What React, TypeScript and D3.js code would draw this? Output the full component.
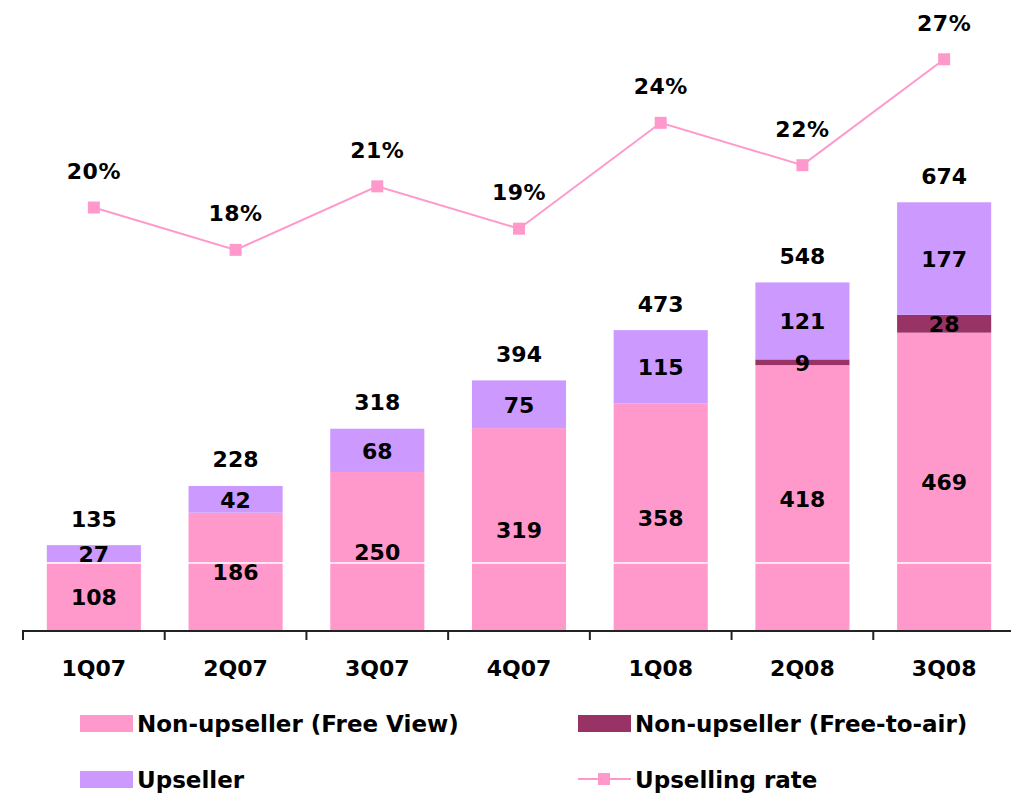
import React, { useEffect, useRef } from "react";
import * as d3 from "d3";

const quarters = ["1Q07", "2Q07", "3Q07", "4Q07", "1Q08", "2Q08", "3Q08"];
const freeView = [108, 186, 250, 319, 358, 418, 469];
const freeToAir = [0, 0, 0, 0, 0, 9, 28];
const upseller = [27, 42, 68, 75, 115, 121, 177];
const totals = [135, 228, 318, 394, 473, 548, 674];
const upsellRate = [20, 18, 21, 19, 24, 22, 27];
const gridValue = 107;

const seriesNames = [
  "Non-upseller (Free View)",
  "Non-upseller (Free-to-air)",
  "Upseller",
  "Upselling rate",
];

const colors = {
  freeView: "#FF99CC",
  freeToAir: "#993366",
  upseller: "#CC99FF",
  line: "#FF99CC",
};

const FONT = "'DejaVu Sans', Verdana, sans-serif";

const App = () => {
  const ref = useRef<SVGSVGElement | null>(null);

  useEffect(() => {
    if (!ref.current) return;
    const svg = d3.select(ref.current);
    svg.selectAll("*").remove();

    const width = 1011;
    const height = 794;
    const baseY = 631;
    const left = 23;
    const right = 1015;

    const x = d3.scaleBand().domain(quarters).range([left, right]).paddingInner(0.336).paddingOuter(0.168);
    const y = d3.scaleLinear().domain([0, 992]).range([baseY, 0]);
    const yRate = d3.scaleLinear().domain([0, 29.8]).range([baseY, 0]);

    svg.attr("width", width).attr("height", height);

    const rows = quarters.map((q, i) => ({
      q,
      segs: [
        { key: "freeView", v0: 0, v1: freeView[i], val: freeView[i] },
        { key: "freeToAir", v0: freeView[i], v1: freeView[i] + freeToAir[i], val: freeToAir[i] },
        {
          key: "upseller",
          v0: freeView[i] + freeToAir[i],
          v1: freeView[i] + freeToAir[i] + upseller[i],
          val: upseller[i],
        },
      ],
    }));

    // ===== Bars =====
    rows.forEach((r) => {
      r.segs.forEach((s) => {
        if (s.val <= 0) return;
        svg
          .append("rect")
          .attr("x", x(r.q)!)
          .attr("width", x.bandwidth())
          .attr("y", y(s.v1))
          .attr("height", y(s.v0) - y(s.v1))
          .attr("fill", (colors as any)[s.key]);
      });
    });

    // white gridline over bars
    svg
      .append("line")
      .attr("x1", left)
      .attr("x2", width)
      .attr("y1", y(gridValue))
      .attr("y2", y(gridValue))
      .attr("stroke", "#fff")
      .attr("stroke-width", 1.5);

    // ===== Axis =====
    const step = x.step();
    svg
      .append("line")
      .attr("x1", left - 1)
      .attr("x2", width)
      .attr("y1", baseY)
      .attr("y2", baseY)
      .attr("stroke", "#222")
      .attr("stroke-width", 2);
    d3.range(quarters.length + 1).forEach((i) => {
      const tx = left + i * step;
      svg
        .append("line")
        .attr("x1", tx)
        .attr("x2", tx)
        .attr("y1", baseY)
        .attr("y2", baseY + 9)
        .attr("stroke", "#222")
        .attr("stroke-width", 2);
    });

    svg
      .selectAll(".xlab")
      .data(quarters)
      .enter()
      .append("text")
      .attr("x", (d) => x(d)! + x.bandwidth() / 2)
      .attr("y", 668)
      .attr("text-anchor", "middle")
      .attr("dominant-baseline", "central")
      .style("font-family", FONT)
      .style("font-weight", "bold")
      .style("font-size", "22px")
      .text((d) => d);

    // ===== Segment labels =====
    rows.forEach((r) => {
      r.segs.forEach((s) => {
        if (s.val <= 0) return;
        svg
          .append("text")
          .attr("x", x(r.q)! + x.bandwidth() / 2)
          .attr("y", (y(s.v0) + y(s.v1)) / 2 + 1)
          .attr("text-anchor", "middle")
          .attr("dominant-baseline", "central")
          .style("font-family", FONT)
          .style("font-weight", "bold")
          .style("font-size", "22px")
          .text(s.val);
      });
    });

    // totals
    quarters.forEach((q, i) => {
      svg
        .append("text")
        .attr("x", x(q)! + x.bandwidth() / 2)
        .attr("y", y(totals[i]) - 26)
        .attr("text-anchor", "middle")
        .attr("dominant-baseline", "central")
        .style("font-family", FONT)
        .style("font-weight", "bold")
        .style("font-size", "22px")
        .text(totals[i]);
    });

    // ===== Line =====
    const line = d3
      .line<number>()
      .x((_, i) => x(quarters[i])! + x.bandwidth() / 2)
      .y((d) => yRate(d));

    svg
      .append("path")
      .datum(upsellRate)
      .attr("fill", "none")
      .attr("stroke", colors.line)
      .attr("stroke-width", 2)
      .attr("d", line);

    upsellRate.forEach((d, i) => {
      const cx = x(quarters[i])! + x.bandwidth() / 2;
      svg
        .append("rect")
        .attr("x", cx - 6)
        .attr("y", yRate(d) - 6)
        .attr("width", 12)
        .attr("height", 12)
        .attr("fill", colors.line);
      svg
        .append("text")
        .attr("x", cx)
        .attr("y", yRate(d) - 36)
        .attr("text-anchor", "middle")
        .attr("dominant-baseline", "central")
        .style("font-family", FONT)
        .style("font-weight", "bold")
        .style("font-size", "22px")
        .style("letter-spacing", "0.5px")
        .text(`${d}%`);
    });

    // ===== Legend =====
    const legend = [
      { name: seriesNames[0], color: colors.freeView, type: "rect", lx: 80, ly: 723 },
      { name: seriesNames[1], color: colors.freeToAir, type: "rect", lx: 578, ly: 723 },
      { name: seriesNames[2], color: colors.upseller, type: "rect", lx: 80, ly: 779 },
      { name: seriesNames[3], color: colors.line, type: "line", lx: 578, ly: 779 },
    ];
    legend.forEach((l) => {
      if (l.type === "rect") {
        svg
          .append("rect")
          .attr("x", l.lx)
          .attr("y", l.ly - 8)
          .attr("width", 53)
          .attr("height", 17)
          .attr("fill", l.color);
      } else {
        svg
          .append("line")
          .attr("x1", l.lx)
          .attr("x2", l.lx + 53)
          .attr("y1", l.ly)
          .attr("y2", l.ly)
          .attr("stroke", l.color)
          .attr("stroke-width", 2);
        svg
          .append("rect")
          .attr("x", l.lx + 26 - 6)
          .attr("y", l.ly - 6)
          .attr("width", 12)
          .attr("height", 12)
          .attr("fill", l.color);
      }
      svg
        .append("text")
        .attr("x", l.lx + 57)
        .attr("y", l.ly + 1)
        .attr("dominant-baseline", "central")
        .style("font-family", FONT)
        .style("font-weight", "bold")
        .style("font-size", "23px")
        .text(l.name);
    });
  }, []);

  return (
    <svg
      ref={ref}
      width={1011}
      height={794}
      style={{ position: "absolute", left: 0, top: 0, display: "block", background: "#fff" }}
    />
  );
};

export default App;
